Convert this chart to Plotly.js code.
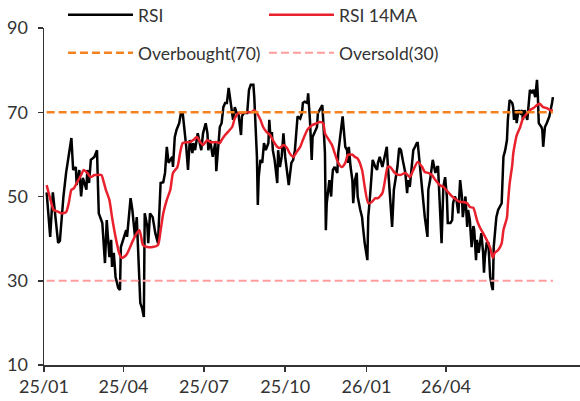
<!DOCTYPE html>
<html>
<head>
<meta charset="utf-8">
<script src="https://cdn.plot.ly/plotly-3.0.1.min.js"></script>
<style>
  html, body { margin: 0; padding: 0; background: #fff; }
  #chart { width: 580px; height: 401px; }
</style>
</head>
<body>
<div id="chart"></div>
<script>
// ── RSI (daily) ─────────────────────────────────────────────────────────────
const rsiDates = [
  '2025-01-04','2025-01-08','2025-01-11','2025-01-17','2025-01-19','2025-01-23','2025-01-26','2025-01-29',
  '2025-02-01','2025-02-03','2025-02-06','2025-02-07','2025-02-10','2025-02-12','2025-02-14','2025-02-18',
  '2025-02-19','2025-02-21','2025-02-23','2025-02-27','2025-03-02','2025-03-03','2025-03-04','2025-03-08',
  '2025-03-11','2025-03-13','2025-03-16','2025-03-18','2025-03-19','2025-03-21','2025-03-23','2025-03-26',
  '2025-03-28','2025-03-29','2025-04-02','2025-04-04','2025-04-05','2025-04-08','2025-04-09','2025-04-11',
  '2025-04-14','2025-04-16','2025-04-17','2025-04-20','2025-04-22','2025-04-24','2025-04-25','2025-04-28',
  '2025-04-29','2025-05-01','2025-05-04','2025-05-07','2025-05-10','2025-05-13','2025-05-16','2025-05-18',
  '2025-05-20','2025-05-22','2025-05-26','2025-05-27','2025-05-29','2025-05-31','2025-06-03','2025-06-05',
  '2025-06-07','2025-06-10','2025-06-11','2025-06-13','2025-06-15','2025-06-18','2025-06-19','2025-06-21',
  '2025-06-23','2025-06-24','2025-06-28','2025-06-30','2025-07-03','2025-07-05','2025-07-06','2025-07-08',
  '2025-07-11','2025-07-14','2025-07-15','2025-07-17','2025-07-19','2025-07-21','2025-07-23','2025-07-25',
  '2025-07-27','2025-07-29','2025-07-31','2025-08-02','2025-08-03','2025-08-05','2025-08-07','2025-08-09',
  '2025-08-11','2025-08-12','2025-08-13','2025-08-15','2025-08-19','2025-08-20','2025-08-21','2025-08-23',
  '2025-08-26','2025-08-27','2025-08-28','2025-08-30','2025-08-31','2025-09-01','2025-09-03','2025-09-05',
  '2025-09-06','2025-09-07','2025-09-09','2025-09-12','2025-09-13','2025-09-14','2025-09-16','2025-09-17',
  '2025-09-19','2025-09-22','2025-09-23','2025-09-25','2025-09-27','2025-09-29','2025-10-01','2025-10-03',
  '2025-10-05','2025-10-08','2025-10-10','2025-10-12','2025-10-14','2025-10-15','2025-10-18','2025-10-20',
  '2025-10-21','2025-10-23','2025-10-26','2025-10-27','2025-10-29','2025-10-31','2025-11-01','2025-11-04',
  '2025-11-06','2025-11-07','2025-11-09','2025-11-12','2025-11-13','2025-11-15','2025-11-16','2025-11-17',
  '2025-11-20','2025-11-22','2025-11-23','2025-11-24','2025-11-26','2025-11-29','2025-11-30','2025-12-02',
  '2025-12-04','2025-12-05','2025-12-08','2025-12-10','2025-12-11','2025-12-12','2025-12-14','2025-12-16',
  '2025-12-17','2025-12-18','2025-12-19','2025-12-21','2025-12-22','2025-12-25','2025-12-27','2025-12-28',
  '2025-12-30','2026-01-02','2026-01-03','2026-01-05','2026-01-07','2026-01-08','2026-01-11','2026-01-13',
  '2026-01-14','2026-01-16','2026-01-19','2026-01-20','2026-01-22','2026-01-24','2026-01-25','2026-01-30',
  '2026-02-01','2026-02-05','2026-02-07','2026-02-09','2026-02-11','2026-02-14','2026-02-16','2026-02-17',
  '2026-02-19','2026-02-22','2026-02-23','2026-02-25','2026-02-27','2026-02-28','2026-03-01','2026-03-04',
  '2026-03-06','2026-03-08','2026-03-11','2026-03-12','2026-03-14','2026-03-16','2026-03-17','2026-03-20',
  '2026-03-22','2026-03-23','2026-03-25','2026-03-27','2026-03-29','2026-03-31','2026-04-02','2026-04-03',
  '2026-04-06','2026-04-08','2026-04-09','2026-04-11','2026-04-13','2026-04-15','2026-04-17','2026-04-19',
  '2026-04-20','2026-04-23','2026-04-25','2026-04-26','2026-04-28','2026-04-30','2026-05-02','2026-05-03',
  '2026-05-05','2026-05-06','2026-05-08','2026-05-11','2026-05-13','2026-05-14','2026-05-15','2026-05-17',
  '2026-05-19','2026-05-21','2026-05-23','2026-05-24','2026-05-25','2026-05-28','2026-05-30','2026-06-01',
  '2026-06-03','2026-06-05','2026-06-07','2026-06-09','2026-06-10','2026-06-12','2026-06-15','2026-06-16',
  '2026-06-17','2026-06-19','2026-06-20','2026-06-22','2026-06-24','2026-06-26','2026-06-27','2026-06-29',
  '2026-07-02','2026-07-03','2026-07-05','2026-07-07','2026-07-09','2026-07-11','2026-07-12','2026-07-13',
  '2026-07-14','2026-07-15','2026-07-18','2026-07-19','2026-07-20','2026-07-22','2026-07-24','2026-07-27',
  '2026-07-30','2026-07-31'
];
const rsiValues = [
  51, 40.4, 51, 39, 39.5, 50, 55.6, 59.4,
  63.9, 56.3, 57, 52.7, 56.3, 50, 54.4, 51.6,
  56.3, 53.2, 58.7, 59.4, 61, 53.2, 46, 43.7,
  34.2, 44.4, 35.6, 39.7, 33.3, 36.6, 30.9, 28.3,
  27.8, 38, 40.4, 42, 40.4, 49, 49.6, 46.8,
  40.4, 45.1, 38.9, 24.7, 23.5, 21.4, 46, 42.8,
  38.9, 46, 45.1, 41.3, 38.9, 53.2, 53.4, 55.6,
  61.8, 58, 59.4, 57, 64.1, 65.8, 67.4, 69.8,
  69.8, 64.1, 61.8, 56.3, 63.4, 60.3, 62.7, 61,
  63.4, 65, 61, 65, 67.4, 65, 61, 63.4,
  59.4, 63, 56, 62.5, 66.5, 67.4, 71.2, 72.2,
  72.2, 75.8, 72.9, 70.5, 68.2, 71.2, 69.8, 69.8,
  66.5, 64.6, 69, 69.8, 69.8, 72.9, 75.3, 76.5,
  76.5, 73.6, 68.2, 59.4, 48, 54.6, 58.7, 58,
  60.3, 62.7, 61, 62.7, 68.2, 65, 65, 61,
  58.7, 53.2, 61, 57, 59.4, 65, 59.4, 56.3,
  52.7, 58, 58.7, 61, 67.4, 69, 68.5, 69.8,
  72.2, 72.5, 72.2, 74.5, 68.2, 58.7, 64.1, 65.8,
  66.5, 69.8, 70.5, 71.7, 68.2, 60.3, 42, 48.4,
  53.9, 50, 53.9, 56.3, 57, 55.6, 60.3, 64.1,
  68.2, 69, 61.8, 61, 58, 61.8, 57, 53.9,
  48.4, 51.6, 53.9, 55.6, 50, 46.8, 45.1, 42.8,
  38.9, 34.9, 45.1, 50, 57, 58.7, 57, 56.3,
  58, 59.4, 57, 58, 60.3, 61.8, 58, 42.8,
  51.6, 57, 61.5, 61, 58.7, 55.6, 50.8, 53.9,
  52.3, 59.4, 61, 61.8, 62.7, 62.7, 60.3, 53.9,
  49.2, 45.1, 40.4, 51.6, 53.9, 58, 58.7, 55.6,
  57, 57, 49.2, 38.9, 52.3, 54.6, 50, 43.7,
  43.7, 44.4, 48.4, 50, 49, 46, 53.9, 50,
  45.1, 50, 42.8, 46.8, 44.4, 38, 43, 42,
  34.9, 39.7, 36.6, 41.3, 36.6, 31.9, 35.6, 38.9,
  38.9, 30.9, 28.5, 27.8, 38, 45.1, 46.8, 47.5,
  48.4, 59.4, 61, 63.4, 68.2, 72.9, 72.2, 71.2,
  68.2, 70.5, 67.4, 70.5, 69.8, 70.5, 68.2, 70.5,
  68.2, 70.5, 75.3, 74.5, 75.3, 73.6, 75.3, 77.7,
  73.6, 67.4, 66.5, 65.8, 61.8, 66.5, 67.4, 69,
  72.2, 73.6
];

// ── RSI 14-day moving average ───────────────────────────────────────────────
const maDates = [
  '2025-01-04','2025-01-09','2025-01-12','2025-01-18','2025-01-21','2025-01-26','2025-01-29','2025-02-01',
  '2025-02-04','2025-02-07','2025-02-12','2025-02-15','2025-02-19','2025-02-23','2025-02-27','2025-03-02',
  '2025-03-07','2025-03-09','2025-03-12','2025-03-16','2025-03-19','2025-03-23','2025-03-27','2025-03-30',
  '2025-04-04','2025-04-07','2025-04-12','2025-04-16','2025-04-19','2025-04-21','2025-04-23','2025-04-28',
  '2025-05-04','2025-05-10','2025-05-13','2025-05-16','2025-05-20','2025-05-24','2025-05-27','2025-06-01',
  '2025-06-04','2025-06-07','2025-06-12','2025-06-15','2025-06-19','2025-06-23','2025-06-27','2025-06-30',
  '2025-07-05','2025-07-08','2025-07-11','2025-07-16','2025-07-19','2025-07-21','2025-07-25','2025-07-28',
  '2025-08-02','2025-08-05','2025-08-09','2025-08-13','2025-08-17','2025-08-20','2025-08-24','2025-08-27',
  '2025-08-30','2025-09-03','2025-09-06','2025-09-10','2025-09-14','2025-09-17','2025-09-22','2025-09-25',
  '2025-09-29','2025-10-03','2025-10-06','2025-10-10','2025-10-14','2025-10-18','2025-10-21','2025-10-26',
  '2025-10-29','2025-11-01','2025-11-06','2025-11-09','2025-11-13','2025-11-15','2025-11-18','2025-11-23',
  '2025-11-26','2025-11-30','2025-12-04','2025-12-08','2025-12-11','2025-12-16','2025-12-19','2025-12-22',
  '2025-12-27','2025-12-30','2026-01-03','2026-01-07','2026-01-11','2026-01-14','2026-01-19','2026-01-22',
  '2026-01-25','2026-01-28','2026-02-02','2026-02-08','2026-02-14','2026-02-19','2026-02-23','2026-02-28',
  '2026-03-05','2026-03-08','2026-03-12','2026-03-16','2026-03-20','2026-03-25','2026-03-29','2026-04-03',
  '2026-04-08','2026-04-17','2026-04-20','2026-04-25','2026-04-28','2026-05-02','2026-05-06','2026-05-09',
  '2026-05-13','2026-05-17','2026-05-21','2026-05-24','2026-05-26','2026-05-30','2026-06-03','2026-06-05',
  '2026-06-07','2026-06-09','2026-06-10','2026-06-12','2026-06-15','2026-06-16','2026-06-18','2026-06-20',
  '2026-06-24','2026-06-27','2026-07-02','2026-07-05','2026-07-09','2026-07-13','2026-07-16','2026-07-20',
  '2026-07-24','2026-07-28','2026-07-31'
];
const maValues = [
  52.7, 48.7, 46.8, 46.3, 46, 46.3, 48.4, 51.6,
  52, 53.2, 55.1, 56.3, 55.6, 54.6, 55.1, 55.1,
  55.1, 53.9, 51.6, 49.2, 45.1, 40.4, 36.6, 35.4,
  36.1, 37.3, 39.7, 41.3, 42, 40.4, 38.5, 38,
  38, 38.5, 42, 46, 49.2, 51.6, 55.6, 57,
  60.3, 62.7, 62.9, 62.9, 63.4, 64.1, 62.9, 62.2,
  63.4, 62.9, 62.9, 62.9, 62.7, 63.4, 64.6, 65.3,
  66.5, 68.6, 69.8, 69.8, 70, 70, 70, 70.5,
  69.8, 68.2, 66.5, 65.3, 64.6, 63.4, 61.8, 61.5,
  62.2, 61.5, 60.3, 59.4, 60.6, 61.8, 63.4, 65.8,
  66.5, 67, 67.4, 67.7, 67.4, 65, 63.9, 62.2,
  60.3, 58, 57, 58, 59.9, 59.9, 59.4, 59,
  56.3, 52.3, 48.4, 48.7, 49.6, 49.6, 50.8, 53.9,
  57, 57, 55.6, 55.1, 55.6, 54.6, 56.3, 58.2,
  57, 55.8, 55.6, 55.1, 53.9, 52.7, 52.3, 51.1,
  50, 48.7, 48.7, 48.4, 47.5, 47.3, 44.4, 42.8,
  41.3, 39.7, 37.8, 35.4, 36.6, 37.3, 38.9, 42,
  43.5, 45, 48, 53, 57.5, 60, 62.5, 64.5,
  66.5, 68.5, 69.8, 70.5, 71, 71.7, 72, 71.2,
  71, 70.5, 70.5
];

// ── Reference levels & axis ticks ───────────────────────────────────────────
const OVERBOUGHT = 70;
const OVERSOLD = 30;
const tickDates = ['2025-01-01', '2025-04-01', '2025-07-01', '2025-10-01', '2026-01-01', '2026-04-01'];
const tickLabels = ['25/01', '25/04', '25/07', '25/10', '26/01', '26/04'];
const yTicks = [10, 30, 50, 70, 90];

const FONT = 'Lato, "Noto Sans", sans-serif';
const levelX = [rsiDates[0], rsiDates[rsiDates.length - 1]];

const traces = [
  {
    x: rsiDates, y: rsiValues, mode: 'lines', name: 'RSI',
    line: { color: '#000000', width: 2.5 }, legend: 'legend'
  },
  {
    x: maDates, y: maValues, mode: 'lines', name: 'RSI 14MA',
    line: { color: '#e8212d', width: 2.5, shape: 'spline', smoothing: 0.6 }, legend: 'legend'
  },
  {
    x: levelX, y: levelX.map(() => OVERBOUGHT), mode: 'lines', name: 'Overbought(70)',
    line: { color: '#f58220', width: 2.5, dash: '8px,4px' }, legend: 'legend2'
  },
  {
    x: levelX, y: levelX.map(() => OVERSOLD), mode: 'lines', name: 'Oversold(30)',
    line: { color: '#ff9d9d', width: 2, dash: '8px,4px' }, legend: 'legend2'
  }
];

// two one-row legends so the row gap matches the reference
const legendBase = {
  orientation: 'h', xanchor: 'left', yanchor: 'middle',
  x: 0.0354, entrywidth: 121, entrywidthmode: 'pixels', itemwidth: 65,
  font: { family: FONT, size: 17.5, color: '#333' },
  bgcolor: 'rgba(0,0,0,0)', borderwidth: 0
};

const layout = {
  width: 580, height: 401,
  paper_bgcolor: '#ffffff', plot_bgcolor: '#ffffff',
  margin: { l: 44, r: 0, t: 28, b: 36, autoexpand: false },
  font: { family: FONT, size: 18, color: '#333' },
  showlegend: true,
  legend: Object.assign({}, legendBase, { y: 1.0386 }),
  legend2: Object.assign({}, legendBase, { y: 0.926 }),
  xaxis: {
    type: 'date',
    range: ['2025-01-01', '2026-08-30 16:00'],
    tickvals: tickDates, ticktext: tickLabels,
    showgrid: false, zeroline: false,
    showline: true, linecolor: '#333', linewidth: 1.5,
    ticks: 'outside', ticklen: 5, tickwidth: 1.5, tickcolor: '#333',
    tickfont: { family: FONT, size: 18, color: '#333' }
  },
  yaxis: {
    range: [10, 90], tickvals: yTicks,
    showgrid: false, zeroline: false,
    showline: true, linecolor: '#333', linewidth: 1.5,
    ticks: 'outside', ticklen: 5, tickwidth: 1.5, tickcolor: '#333',
    ticklabelstandoff: 6,
    tickfont: { family: FONT, size: 18, color: '#333' }
  }
};

Plotly.newPlot('chart', traces, layout, { displayModeBar: false, staticPlot: true });
</script>
</body>
</html>
